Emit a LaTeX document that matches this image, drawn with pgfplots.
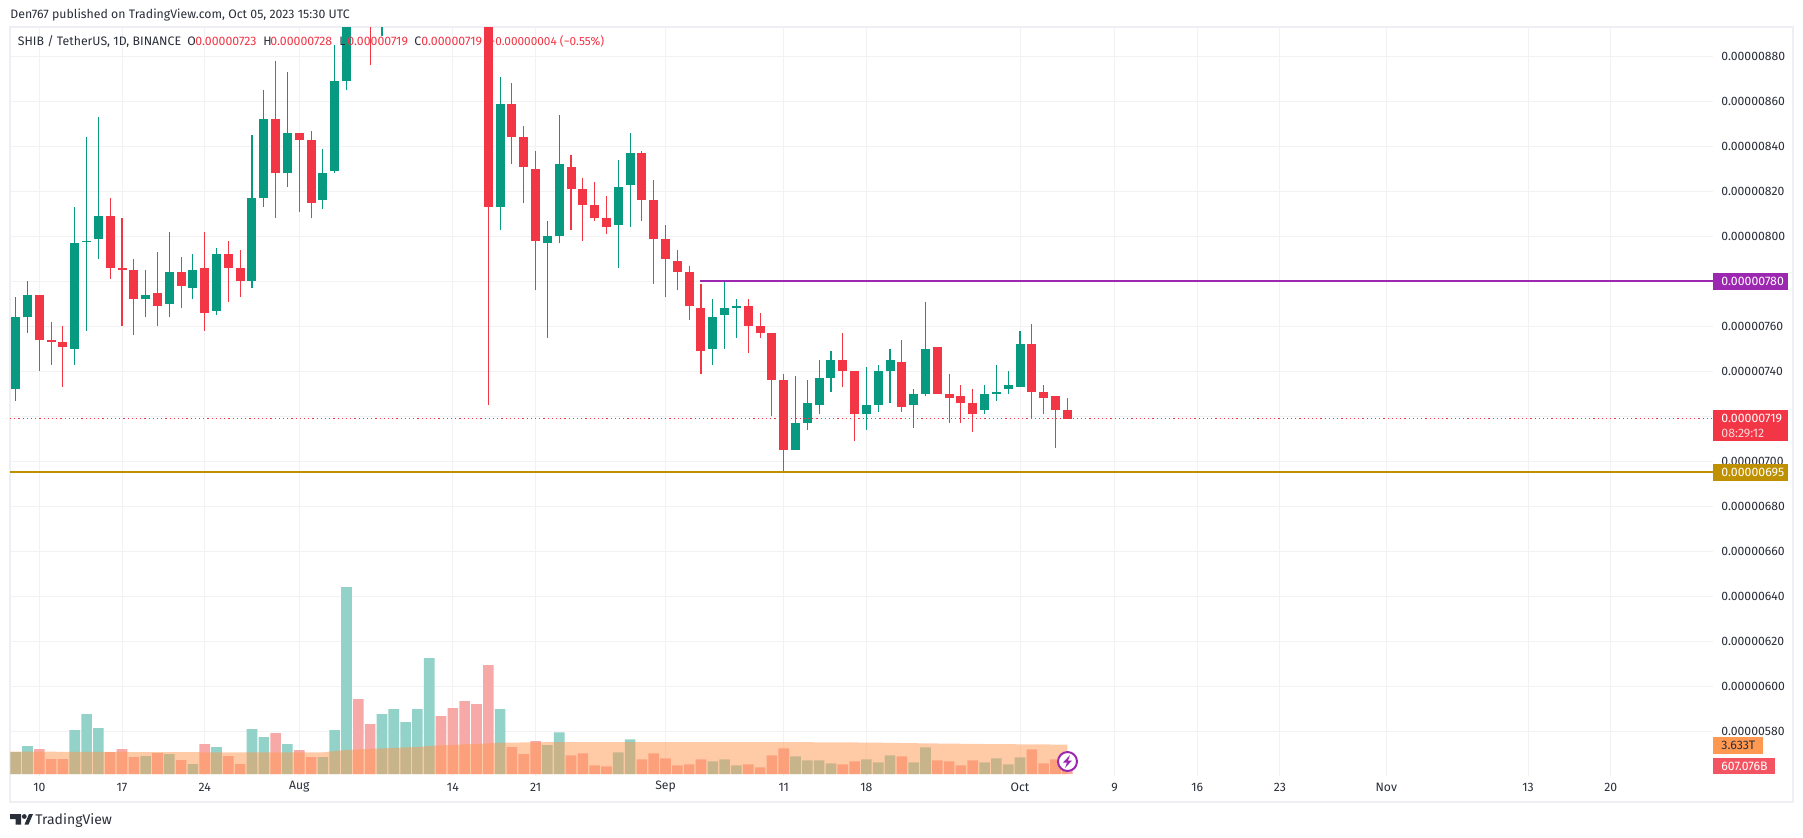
\documentclass[border=0pt]{standalone}
\usepackage{pgfplots}
\usepackage{pgfplotstable}
\usepackage{fontspec}
\setmainfont{Fira Sans}
\pgfplotsset{compat=1.18}
\definecolor{tvgreen}{HTML}{089981}
\definecolor{tvred}{HTML}{F23645}
\definecolor{gridc}{HTML}{F2F2F5}
\definecolor{framec}{HTML}{EEEEF4}
\definecolor{txt}{HTML}{2A2E39}
\definecolor{purp}{HTML}{9C27B0}
\definecolor{gold}{HTML}{BF9000}
\definecolor{volg}{HTML}{92D2C8}
\definecolor{volr}{HTML}{F7A9A7}
\definecolor{orng}{HTML}{FF9850}
% prices in units of 0.00000001
\pgfplotstableread{
t low high bot top
-2 727 773 732 764
-1 757 780 764 774
3 743 813 750 797
4 758 844 797.5 798
5 790 853 799 809
9 764 785 772 774
11 764 802 770 784
13 772 792 777 785
15 765 795 767 792
18 777 845 780 817
19 813 865 817 852
21 822 873 828 846
24 812 839 816 828
25 828 885 829 869
26 865 915 869 905
29 889 925 896 915
30 905 950 910 935
31 915 945 925 940
32 925 965 935 955
33 935 1010 950 990
39 803 871 813 859
43 755 807 797 800
44 797 854 800 832
49 786 834 805 822
50 804 846 823 837
57 743 772 750 764
58 750 780 765 768
59 755 772 768 769
64 705 738 705 717
65 714 736 717 726
66 721 745 725 737
67 731 749 737 745
70 714 742 721 725
71 722 743 725 740
72 726 750 740 745
74 715 732 725 730
75 729 771 730 750
80 721 734 723 730
81 727 743 730 731
82 730 740 732 734
83 733 758 733 752
}\upc
\pgfplotstableread{
t low high bot top
0 740 774 754 774
1 743 762 753 754
2 733 760 751 753
6 781 817 786 809
7 760 808 785 786
8 756 790 772 785
10 760 793 769 775
12 768 791 778 784
14 758 802 766 786
16 771 798 786 792
17 773 794 780 786
20 808 878 828 852
22 811 846 843 846
23 808 847 815 843
27 895 925 898 905
28 876 910 895 900
34 950 1000 960 990
35 925 975 940 965
36 915 965 925 945
37 910 945 920 930
38 725 935 813 925
40 832 868 844 859
41 815 849 831 844
42 776 838 798 830
45 803 836 821 831
46 798 826 814 821
47 807 824 808 814
48 801 818 804 808
51 807 838 816 837
52 779 825 799 816
53 773 805 790 799
54 776 794 784 789
55 763 787 769 784
56 739 779 749 768
60 748 772 760 769
61 755 766 757 760
62 720 757 736 757
63 695 739 705 736
68 733 757 740 745
69 709 740 721 740
73 722 754 724 744
76 730 751 730 751
77 717 739 728 730
78 717 734 726 729
79 713 732 721 726
84 719 761 731 752
85 721 734 728 731
86 706 729 723 729
87 719 728 719 723
}\downc
% volume in billions
\pgfplotstableread{
t v
-2 2719
-1 3461
3 5438
4 7416
5 5686
9 2225
11 2472
13 1236
15 3337
18 5562
19 4573
21 3708
24 2101
25 5438
26 23113
29 7416
30 8034
31 6427
32 8034
33 14338
39 8034
43 3584
44 5150
49 2678
50 4285
57 1566
58 1813
59 1071
64 2184
65 1689
66 1689
67 1318
70 1813
71 1442
72 2307
74 1442
75 3296
80 1442
81 1936
82 1195
83 2060
}\upv
\pgfplotstableread{
t v
0 3090
1 1854
2 1854
6 2719
7 3090
8 2101
10 2596
12 1730
14 3708
16 2225
17 1236
20 5068
22 2966
23 2101
27 9270
28 6180
34 7169
35 8158
36 9023
37 8652
38 13472
40 3337
41 2472
42 4079
45 2307
46 2554
47 1071
48 948
51 1813
52 2554
53 1936
54 1071
55 1195
56 1813
60 1195
61 824
62 2307
63 3172
68 1195
69 1566
73 2184
76 1689
77 1566
78 1071
79 1689
84 3049
85 1318
86 1813
87 607
}\downv
\pgfplotstableread{
t v
-2.45 2760
0 2760
8 2720
16 2678
24 2678
25 2843
26 2966
27 3049
28 3090
29 3172
30 3214
31 3296
32 3337
33 3461
34 3543
35 3584
36 3667
37 3708
38 3790
39 3873
42 3914
44 3955
60 3955
68 3914
71 3873
75 3790
80 3708
87 3633
}\mav
\begin{document}
\begin{tikzpicture}[x=0.5pt,y=-0.5pt]
\path[use as bounding box,fill=white] (0,0) rectangle (1803,837);
\draw[framec,line width=1pt] (10,27) rectangle (1793,802);
\coordinate (A) at (10,776);
\begin{axis}[
  at={(A)},anchor=south west,scale only axis,
  width=851.5pt,height=374.5pt,
  xmin=-2.48,xmax=141.65,ymin=560.15,ymax=893.04,
  axis line style={draw=none},
  major tick length=0pt,
  grid=major,grid style={gridc,line width=0.5pt},
  xtick={0,7,14,22,35,42,53,63,70,83,91,98,105,114,126,133},
  xticklabels={10,17,24,Aug,14,21,Sep,11,18,Oct,9,16,23,Nov,13,20},
  ytick={580,600,...,880},
  yticklabels={0.00000580,0.00000600,0.00000620,0.00000640,0.00000660,0.00000680,0.00000700,0.00000720,0.00000740,0.00000760,0.00000780,0.00000800,0.00000820,0.00000840,0.00000860,0.00000880},
  yticklabel pos=right,
  tick label style={font=\fontsize{6.1}{7}\selectfont,text=txt,inner sep=0pt},
  yticklabel style={anchor=west,xshift=4pt},
  xticklabel style={anchor=center,yshift=-5.5pt},
  /pgf/number format/assume math mode=true,
]
\addplot[draw=none,mark=none,forget plot,error bars/.cd,y dir=plus,y explicit,error mark=none,error bar style={tvgreen,line width=0.55pt}]
  table[x=t,y=low,y error expr=\thisrow{high}-\thisrow{low}]{\upc};
\addplot[draw=none,mark=none,forget plot,error bars/.cd,y dir=plus,y explicit,error mark=none,error bar style={tvred,line width=0.55pt}]
  table[x=t,y=low,y error expr=\thisrow{high}-\thisrow{low}]{\downc};
\addplot[draw=none,mark=none,forget plot,error bars/.cd,y dir=plus,y explicit,error mark=none,error bar style={tvgreen,line width=4.5pt}]
  table[x=t,y=bot,y error expr=\thisrow{top}-\thisrow{bot}]{\upc};
\addplot[draw=none,mark=none,forget plot,error bars/.cd,y dir=plus,y explicit,error mark=none,error bar style={tvred,line width=4.5pt}]
  table[x=t,y=bot,y error expr=\thisrow{top}-\thisrow{bot}]{\downc};
\addplot[purp,line width=1pt] coordinates {(55.9,780) (141.65,780)};
\addplot[gold,line width=1pt] coordinates {(-2.48,695.2) (141.65,695.2)};
\addplot[tvred,line width=0.5pt,dash pattern=on 0.6pt off 1.5pt] coordinates {(-2.48,719) (141.65,719)};
\end{axis}
\begin{axis}[
  at={(A)},anchor=south west,scale only axis,
  width=851.5pt,height=374.5pt,
  xmin=-2.48,xmax=141.65,ymin=-247,ymax=92329,
  hide axis,
]
\addplot[ybar,bar width=5.3pt,bar shift=0pt,fill=volg,draw=none] table[x=t,y=v]{\upv};
\addplot[ybar,bar width=5.3pt,bar shift=0pt,fill=volr,draw=none] table[x=t,y=v]{\downv};
\addplot[fill=orng,fill opacity=0.5,draw=none] table[x=t,y=v]{\mav} \closedcycle;
\end{axis}
% header and legend
\tikzset{t/.style={inner sep=0pt,anchor=west,font=\fontsize{6.15}{7}\selectfont}}
\node[t,text=txt] at (10,15) {Den767 published on TradingView.com, Oct 05, 2023 15:30 UTC};
\node[t,text=txt] at (17.5,41.5) {SHIB / TetherUS, 1D, BINANCE};
\node[t,text=txt] at (187,41.5) {O};
\node[t,text=tvred] at (195,41.5) {0.00000723};
\node[t,text=txt] at (263,41.5) {H};
\node[t,text=tvred] at (270,41.5) {0.00000728};
\node[t,text=txt] at (339,41.5) {L};
\node[t,text=tvred] at (347,41.5) {0.00000719};
\node[t,text=txt] at (414,41.5) {C};
\node[t,text=tvred] at (421,41.5) {0.00000719};
\node[t,text=tvred,font=\fontsize{5.9}{7}\selectfont] at (489,41.5) {−0.00000004 (−0.55\%)};
% price labels
\fill[purp] (1713,273) rectangle (1788,290);
\node[t,text=white] at (1721,281.5) {0.00000780};
\fill[tvred] (1713,410) rectangle (1788,441);
\node[t,text=white] at (1721,418.5) {0.00000719};
\node[t,text=white!80!tvred] at (1721,433) {08:29:12};
\fill[gold] (1713,464) rectangle (1788,481);
\node[t,text=white] at (1721,472.5) {0.00000695};
\fill[orng] (1713,737) rectangle (1763,754);
\node[t,text=txt] at (1721,745.5) {3.633T};
\fill[tvred!85!white] (1713,758) rectangle (1775,774);
\node[t,text=white] at (1721,766) {607.076B};
% lightning icon
\draw[purp,fill=white,line width=1pt] (1067.5,761.5) circle (9.5);
\fill[purp] (1070,755) -- (1063,762.5) -- (1067,762.5) -- (1065,768) -- (1072,760.5) -- (1068,760.5) -- cycle;
% logo
\fill[txt] (10,814) rectangle (21,819) (15.5,814) rectangle (21,824.5);
\fill[txt] (24.3,816.5) circle (2.4);
\fill[txt] (24.5,824.5) -- (29,814) -- (33,814) -- (28.5,824.5) -- cycle;
\node[t,text=txt,font=\fontsize{7}{8}\selectfont] at (35,821) {TradingView};
\end{tikzpicture}
\end{document}
